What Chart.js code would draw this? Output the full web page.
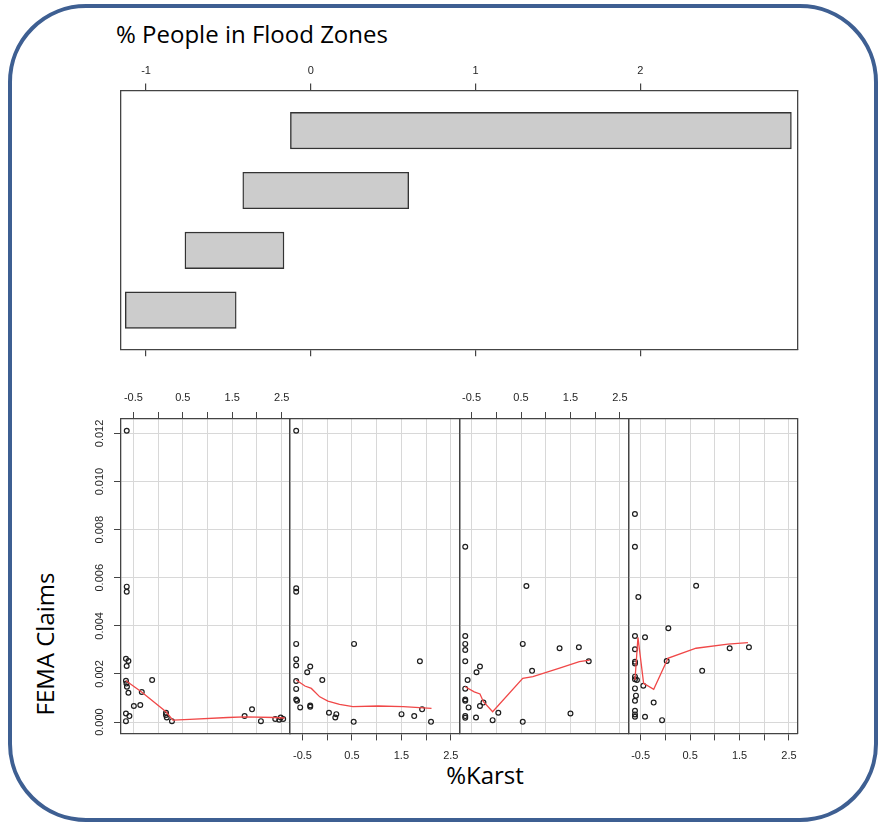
<!DOCTYPE html>
<html>
<head>
<meta charset="utf-8">
<script src="https://cdn.jsdelivr.net/npm/chart.js@4.4.1/dist/chart.umd.min.js"></script>
<style>
html, body { margin: 0; padding: 0; background: #fff; }
body { width: 882px; height: 826px; position: relative; overflow: hidden; }
#frame { position: absolute; left: 8px; top: 4px; width: 870px; height: 818px; box-sizing: border-box;
         border: 4px solid #3e5f92; border-radius: 78px; }
.lbl { position: absolute; font-family: "Open Sans", sans-serif; font-size: 24px; color: #000;
       white-space: nowrap; line-height: normal; }
canvas { position: absolute; }
</style>
</head>
<body>
<div id="frame"></div>
<div class="lbl" style="left:116px; top:17px;">% People in Flood Zones</div>
<div class="lbl" style="left:485px; top:758px; transform: translateX(-50%);">%Karst</div>
<div class="lbl" style="left:44px; top:644px; transform: translate(-50%, -50%) rotate(-90deg);">FEMA Claims</div>

<canvas id="given"></canvas>
<canvas id="p0"></canvas>
<canvas id="p1"></canvas>
<canvas id="p2"></canvas>
<canvas id="p3"></canvas>

<script>
// conditioning intervals of % people in flood zones (bottom row first)
var givenRows = [1, 2, 3, 4];
var givenLow  = [-1.126, -0.764, -0.413, -0.124];
var givenHigh = [-0.453, -0.163,  0.594,  2.916];
var givenTicks = [-1, 0, 1, 2];

// %Karst tick labels (ticks every 0.5, labels every other one)
var karstLabels = [-0.5, 0.5, 1.5, 2.5];

// panel 1
var karst1  = [-0.634, -0.634, -0.634, -0.65, -0.60, -0.635, -0.65, -0.64, -0.63, -0.60, -0.33, -0.12, -0.49, -0.36,
               -0.65, -0.58, -0.65, 0.16, 0.16, 0.176, 0.28, 1.75, 1.90, 2.08, 2.37, 2.45, 2.48, 2.53];
var claims1 = [0.01211, 0.00563, 0.00542, 0.00263, 0.00254, 0.00233, 0.00172, 0.00160, 0.00147, 0.00122, 0.00125, 0.00175,
               0.00067, 0.00071, 0.00036, 0.00025, 0.00004, 0.00039, 0.00030, 0.00019, 0.00004, 0.00025, 0.00053,
               0.00004, 0.00013, 0.00010, 0.00019, 0.00013];
var fitX1 = [-0.65, -0.34, 0.16, 0.30, 0.64, 1.41, 1.75, 2.36, 2.56];
var fitY1 = [0.00172, 0.00126, 0.00043, 0.00008, 0.00011, 0.00019, 0.00022, 0.00019, 0.00017];

// panel 2
var karst2  = [-0.627, -0.627, -0.627, -0.627, -0.627, -0.627, -0.343, -0.404, -0.627, -0.627, -0.099, -0.627, -0.61,
               -0.546, -0.343, -0.343, 0.543, 0.036, 0.185, 0.164, 0.536, 1.503, 1.76, 1.875, 1.92, 2.10];
var claims2 = [0.01211, 0.00556, 0.00542, 0.00325, 0.00261, 0.00235, 0.00231, 0.00207, 0.00171, 0.00138, 0.00175,
               0.00094, 0.00089, 0.00061, 0.00069, 0.00064, 0.00325, 0.00039, 0.00033, 0.00019, 0.00001, 0.00033,
               0.00025, 0.00253, 0.00053, 0.00001];
var fitX2 = [-0.627, -0.45, -0.32, -0.15, 0.015, 0.25, 0.52, 1.03, 1.54, 2.11];
var fitY2 = [0.00175, 0.0015, 0.0014, 0.00105, 0.00087, 0.00074, 0.00064, 0.00067, 0.00064, 0.00057];

// panel 3
var karst3  = [-0.628, 0.609, -0.628, -0.628, -0.628, -0.628, -0.33, -0.40, -0.58, -0.628, -0.628, -0.628, -0.56,
               -0.33, -0.26, -0.628, -0.628, -0.41, -0.074, 0.041, 0.535, 0.535, 0.724, 1.28, 1.67, 1.50, 1.87];
var claims3 = [0.00729, 0.00566, 0.00358, 0.00325, 0.00300, 0.00253, 0.00231, 0.00207, 0.00175, 0.00139, 0.00094,
               0.00089, 0.00061, 0.00067, 0.00081, 0.00025, 0.00018, 0.00019, 0.00008, 0.00039, 0.00325, 0.00001,
               0.00213, 0.00307, 0.00311, 0.00036, 0.00253];
var fitX3 = [-0.628, -0.446, -0.33, -0.26, -0.074, 0.535, 0.74, 1.28, 1.68, 1.89];
var fitY3 = [0.00147, 0.00126, 0.00117, 0.00085, 0.00043, 0.00182, 0.00189, 0.00224, 0.00251, 0.00258];

// panel 4
var karst4  = [-0.616, -0.616, -0.547, 0.622, 0.06, -0.615, -0.412, -0.615, -0.615, -0.615, 0.027, 1.30, 1.69, 0.744,
               -0.615, -0.615, -0.575, -0.446, -0.615, -0.595, -0.615, -0.237, -0.615, -0.615, -0.615, -0.412, -0.067];
var claims4 = [0.00865, 0.00729, 0.00520, 0.00567, 0.00390, 0.00358, 0.00353, 0.00303, 0.00251, 0.00244, 0.00254,
               0.00307, 0.00311, 0.00213, 0.00189, 0.00178, 0.00175, 0.00151, 0.00140, 0.00110, 0.00089, 0.00081,
               0.00047, 0.00032, 0.00022, 0.00022, 0.00008];
var fitX4 = [-0.615, -0.555, -0.44, -0.236, 0.027, 0.047, 0.62, 1.264, 1.67];
var fitY4 = [0.00175, 0.00352, 0.00161, 0.00136, 0.00254, 0.00265, 0.00307, 0.00324, 0.0033];

var panels = [
  { karst: karst1, claims: claims1, fitX: fitX1, fitY: fitY1 },
  { karst: karst2, claims: claims2, fitX: fitX2, fitY: fitY2 },
  { karst: karst3, claims: claims3, fitX: fitX3, fitY: fitY3 },
  { karst: karst4, claims: claims4, fitX: fitX4, fitY: fitY4 }
];

Chart.defaults.font.family = '"Liberation Sans", Arial, sans-serif';
Chart.defaults.font.size = 11;
Chart.defaults.color = '#262626';

var axisLine = { color: '#444', width: 1.3 };
function fixH(h) { return function (s) { s.height = h; }; }
function fixW(w) { return function (s) { s.width = w; }; }
function pairs(xs, ys) { return xs.map(function (x, i) { return { x: x, y: ys[i] }; }); }

function place(id, cl, ct, cw, ch) {
  var cv = document.getElementById(id);
  cv.width = cw; cv.height = ch;
  cv.style.left = cl + 'px'; cv.style.top = ct + 'px';
  cv.style.width = cw + 'px'; cv.style.height = ch + 'px';
  return cv;
}

// ---- top panel: given intervals ----
(function () {
  var area = { x: 121, y: 90.6, w: 676.3, h: 258.7 };
  var cl = 0, ct = 40, cw = 882, ch = 340;
  var cv = place('given', cl, ct, cw, ch);
  var xMin = -1.152, xMax = 2.952;
  new Chart(cv, {
    type: 'bar',
    data: {
      datasets: [{
        data: givenRows.map(function (r, i) { return { y: r, x: [givenLow[i], givenHigh[i]] }; }),
        backgroundColor: '#cccccc',
        borderColor: '#333',
        borderWidth: 1.4,
        borderSkipped: false,
        barThickness: 36.5
      }]
    },
    options: {
      indexAxis: 'y',
      responsive: false,
      animation: false,
      events: [],
      layout: { padding: { left: area.x - cl, right: cl + cw - area.x - area.w,
                           top: area.y - ct - 36, bottom: ct + ch - area.y - area.h - 10 } },
      plugins: { legend: { display: false }, tooltip: { enabled: false } },
      scales: {
        x: {
          type: 'linear', position: 'top', min: xMin, max: xMax, afterFit: fixH(36),
          border: axisLine,
          grid: { drawOnChartArea: false, tickLength: 7, tickColor: '#444', lineWidth: 1.2 },
          ticks: { stepSize: 1, includeBounds: false, autoSkip: false, maxRotation: 0, padding: 6,
                   callback: function (v) { return givenTicks.indexOf(v) >= 0 ? String(v) : ''; } }
        },
        x2: {
          type: 'linear', position: 'bottom', min: xMin, max: xMax, afterFit: fixH(10),
          border: axisLine,
          grid: { drawOnChartArea: false, tickLength: 7, tickColor: '#444', lineWidth: 1.2 },
          ticks: { stepSize: 1, includeBounds: false, display: false }
        },
        y: {
          type: 'linear', position: 'left', min: 0.346, max: 4.67, offset: false, afterFit: fixW(0),
          border: axisLine, grid: { display: false }, ticks: { display: false }
        },
        y2: {
          type: 'linear', position: 'right', min: 0.346, max: 4.67, afterFit: fixW(0),
          border: axisLine, grid: { display: false }, ticks: { display: false }
        }
      }
    }
  });
})();

// ---- bottom panels: FEMA claims vs %Karst ----
panels.forEach(function (p, i) {
  var pw = 169.1;
  var area = { x: 121 + i * pw, y: 419, w: pw, h: 314.4 };
  var cl = Math.floor(area.x) - 45, ct = 370, cw = 260, ch = 420;
  var cv = place('p' + i, cl, ct, cw, ch);
  var labelTop = (i % 2 === 0);
  var leftW = (i === 0) ? 32 : 0;
  var topH = labelTop ? 40 : 12, botH = labelTop ? 12 : 40;
  var xMin = -0.75, xMax = 2.67, yMin = -0.00047, yMax = 0.0126;
  new Chart(cv, {
    type: 'scatter',
    data: {
      datasets: [
        { data: pairs(p.fitX, p.fitY), showLine: true, borderColor: '#f04848', borderWidth: 1.3,
          pointRadius: 0, fill: false, tension: 0 },
        { data: pairs(p.karst, p.claims), pointRadius: 2.4, borderWidth: 1.2,
          borderColor: '#1e1e1e', backgroundColor: 'rgba(0,0,0,0)' }
      ]
    },
    options: {
      responsive: false,
      animation: false,
      events: [],
      layout: { padding: { left: area.x - cl - leftW, right: cl + cw - area.x - area.w,
                           top: area.y - ct - topH, bottom: ct + ch - area.y - area.h - botH } },
      plugins: { legend: { display: false }, tooltip: { enabled: false } },
      scales: {
        x: {
          type: 'linear', position: labelTop ? 'top' : 'bottom', min: xMin, max: xMax,
          afterFit: fixH(labelTop ? topH : botH),
          border: axisLine,
          grid: { color: '#d8d8d8', lineWidth: 1, tickLength: 7, tickColor: '#444' },
          ticks: { stepSize: 0.5, includeBounds: false, autoSkip: false, maxRotation: 0,
                   padding: labelTop ? 7 : 8.5,
                   callback: function (v) {
                     var r = Math.round(v * 10) / 10;
                     return karstLabels.indexOf(r) >= 0 ? r.toFixed(1) : '';
                   } }
        },
        xb: {
          type: 'linear', position: labelTop ? 'bottom' : 'top', min: xMin, max: xMax,
          afterFit: fixH(labelTop ? botH : topH),
          border: axisLine, grid: { display: false }, ticks: { display: false }
        },
        y: {
          type: 'linear', position: 'left', min: yMin, max: yMax, afterFit: fixW(leftW),
          border: axisLine,
          grid: { color: '#d8d8d8', lineWidth: 1, drawTicks: i === 0, tickLength: 7, tickColor: '#444' },
          ticks: { display: i === 0, stepSize: 0.002, includeBounds: false, autoSkip: false,
                   minRotation: 90, maxRotation: 90, crossAlign: 'center', padding: 0,
                   callback: function (v) { return v.toFixed(3); } }
        },
        y2: {
          type: 'linear', position: 'right', min: yMin, max: yMax, afterFit: fixW(0),
          border: axisLine, grid: { display: false }, ticks: { display: false }
        }
      }
    }
  });
});
</script>
</body>
</html>
